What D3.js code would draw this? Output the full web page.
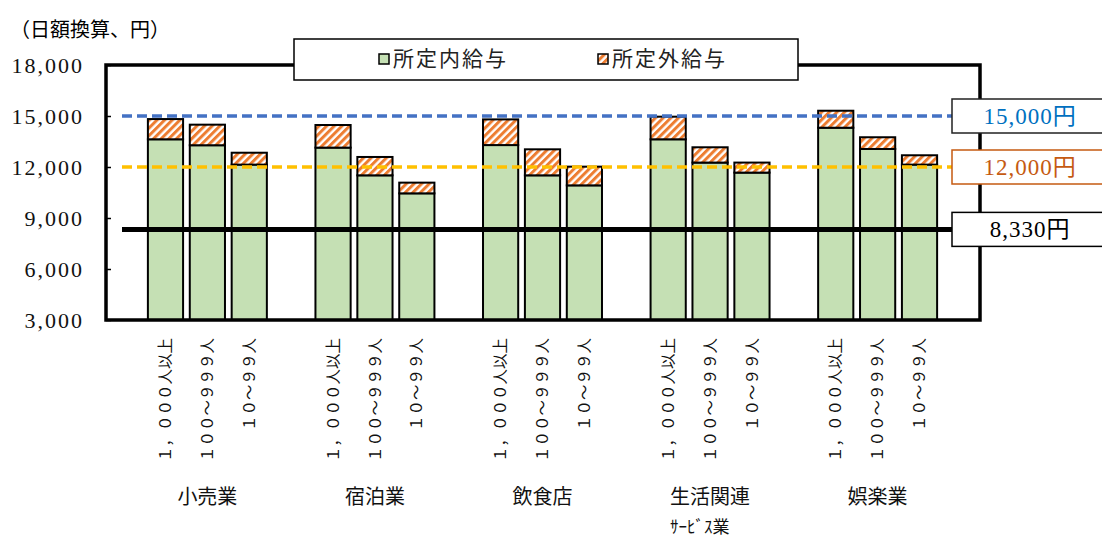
<!DOCTYPE html>
<html lang="ja">
<head>
<meta charset="utf-8">
<style>
  body { margin: 0; background: white; }
  svg { display: block; background: white; }
  .num { font-family: "Liberation Serif", "Noto Sans CJK JP", serif; }
  .jp { font-family: "Noto Sans CJK JP", sans-serif; }
</style>
<script src="https://d3js.org/d3.v7.min.js"></script>
</head>
<body>
<script>
// values (円/日)
var industries = ["小売業", "宿泊業", "飲食店", "生活関連\nｻｰﾋﾞｽ業", "娯楽業"];
var sizes = ["１，０００人以上", "１００～９９９人", "１０～９９人"];
var scheduledPay = [13630, 13280, 12140,  13140, 11510, 10450,  13290, 11510, 10920,  13630, 12260, 11670,  14310, 13060, 12140];
var overtimePay  = [ 1190,  1210,   700,   1330,  1080,   630,   1510,  1530,  1100,   1330,   900,   590,   1000,   690,   550];
var yTicks = [3000, 6000, 9000, 12000, 15000, 18000];
var refValues = [15000, 12000, 8330];
var refLabels = ["15,000円", "12,000円", "8,330円"];
var legendLabels = ["所定内給与", "所定外給与"];

var width = 1102, height = 539;
var plotL = 106, plotR = 980, plotT = 65, plotB = 320;

var svg = d3.select("body").append("svg")
    .attr("width", width)
    .attr("height", height);

var defs = svg.append("defs");
var pat = defs.append("pattern")
    .attr("id", "hatch")
    .attr("patternUnits", "userSpaceOnUse")
    .attr("width", 5.4).attr("height", 5.4)
    .attr("patternTransform", "rotate(45)");
pat.append("rect").attr("width", 5.4).attr("height", 5.4).attr("fill", "white");
pat.append("rect").attr("width", 3).attr("height", 5.4).attr("fill", "#ED7D31");

// slots: empty slot before each group and one at the end, like the excel sheet
var slots = [];
industries.forEach(function(ind, g) {
  slots.push("gap" + g);
  sizes.forEach(function(s, k) { slots.push(g + "-" + k); });
});
slots.push("gapEnd");

var x = d3.scaleBand().domain(slots).range([plotL, plotR - 1]).paddingInner(0.16).paddingOuter(0);
var y = d3.scaleLinear().domain([3000, 18000]).range([plotB, plotT]);

var bars = [];
industries.forEach(function(ind, g) {
  sizes.forEach(function(s, k) {
    var i = g * 3 + k;
    bars.push({ key: g + "-" + k, size: s, base: scheduledPay[i], extra: overtimePay[i] });
  });
});

// title
svg.append("text").attr("class", "jp")
    .attr("x", 10).attr("y", 37)
    .attr("font-size", 20)
    .text("（日額換算、円）");

// y axis ticks + labels
var yAxis = svg.append("g")
    .attr("transform", "translate(" + plotL + ",0)")
    .call(d3.axisLeft(y).tickValues(yTicks).tickSize(-5).tickPadding(22).tickFormat(d3.format(",")));
yAxis.select(".domain").remove();
yAxis.selectAll(".tick line").attr("stroke", "black").attr("stroke-width", 1.5);
yAxis.selectAll(".tick text")
    .attr("class", "num")
    .attr("font-size", 22)
    .attr("letter-spacing", 2)
    .attr("fill", "#111");

// bars
var gb = svg.append("g");
gb.selectAll("rect.base").data(bars).enter().append("rect")
    .attr("class", "base")
    .attr("x", function(d) { return x(d.key); })
    .attr("width", x.bandwidth())
    .attr("y", function(d) { return y(d.base); })
    .attr("height", function(d) { return y(3000) - y(d.base); })
    .attr("fill", "#C5E0B4")
    .attr("stroke", "black").attr("stroke-width", 2);
gb.selectAll("rect.extra").data(bars).enter().append("rect")
    .attr("class", "extra")
    .attr("x", function(d) { return x(d.key); })
    .attr("width", x.bandwidth())
    .attr("y", function(d) { return y(d.base + d.extra); })
    .attr("height", function(d) { return y(d.base) - y(d.base + d.extra); })
    .attr("fill", "url(#hatch)")
    .attr("stroke", "black").attr("stroke-width", 2);

// frame
svg.append("rect")
    .attr("x", plotL).attr("y", plotT)
    .attr("width", plotR - plotL).attr("height", plotB - plotT)
    .attr("fill", "none").attr("stroke", "black").attr("stroke-width", 3.5);

// reference lines
var refStyle = [
  { color: "#4472C4", dash: "10,5", w: 3.5, text: "#0070C0", border: "#222" },
  { color: "#FFC000", dash: "10,5", w: 3.5, text: "#C55A11", border: "#C55A11" },
  { color: "black", dash: null, w: 5, text: "black", border: "black" }
];
refValues.forEach(function(v, i) {
  var st = refStyle[i];
  svg.append("line")
      .attr("x1", 122).attr("x2", 952)
      .attr("y1", y(v)).attr("y2", y(v))
      .attr("stroke", st.color)
      .attr("stroke-width", st.w)
      .attr("stroke-dasharray", st.dash);
  svg.append("rect")
      .attr("x", 952).attr("y", y(v) - 17)
      .attr("width", 156).attr("height", 34)
      .attr("fill", "white")
      .attr("stroke", st.border).attr("stroke-width", 1.5);
  svg.append("text").attr("class", "num")
      .attr("x", 1030).attr("y", y(v))
      .attr("dy", "0.35em")
      .attr("text-anchor", "middle")
      .attr("font-size", 23)
      .attr("letter-spacing", 1)
      .attr("fill", st.text)
      .text(refLabels[i]);
});

// legend
svg.append("rect")
    .attr("x", 294).attr("y", 39).attr("width", 504).attr("height", 41)
    .attr("fill", "white").attr("stroke", "black").attr("stroke-width", 1.5);
var legX = [379, 598];
var legFill = ["#C5E0B4", "url(#hatch)"];
legendLabels.forEach(function(l, i) {
  svg.append("rect")
      .attr("x", legX[i]).attr("y", 54).attr("width", 10).attr("height", 10)
      .attr("fill", legFill[i]).attr("stroke", "black").attr("stroke-width", 1.5);
  svg.append("text").attr("class", "jp")
      .attr("x", legX[i] + 14).attr("y", 59)
      .attr("dy", "0.35em")
      .attr("font-size", 21)
      .attr("letter-spacing", 2)
      .attr("fill", "#222")
      .text(l);
});

// size labels, rotated
svg.append("g").selectAll("text").data(bars).enter().append("text")
    .attr("class", "jp")
    .attr("transform", function(d) {
      return "translate(" + (x(d.key) + x.bandwidth() / 2) + ",338) rotate(-90)";
    })
    .attr("dy", "0.36em")
    .attr("text-anchor", "end")
    .attr("font-size", 15.5)
    .attr("fill", "#111")
    .text(function(d) { return d.size; });

// industry labels
industries.forEach(function(ind, g) {
  var cx = x(g + "-1") + x.bandwidth() / 2;
  var lines = ind.split("\n");
  svg.append("text").attr("class", "jp")
      .attr("x", cx).attr("y", 497).attr("dy", "0.35em")
      .attr("text-anchor", "middle")
      .attr("font-size", 20)
      .attr("fill", "#111")
      .text(lines[0]);
  if (lines[1]) {
    svg.append("text").attr("class", "jp")
        .attr("x", cx - lines[0].length * 10).attr("y", 527).attr("dy", "0.35em")
        .attr("font-size", 17)
        .attr("fill", "#111")
        .text(lines[1]);
  }
});
</script>
</body>
</html>
